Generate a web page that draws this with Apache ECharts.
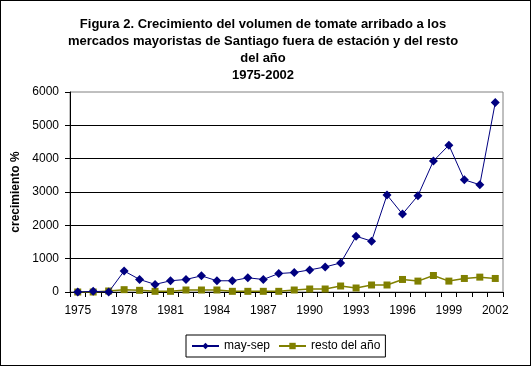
<!DOCTYPE html>
<html><head><meta charset="utf-8">
<script src="https://cdn.jsdelivr.net/npm/echarts@6/dist/echarts.min.js"></script>
<style>html,body{margin:0;padding:0;background:#fff}#c{width:531px;height:366px;box-sizing:border-box;border:1px solid #000}</style>
</head><body><div id="c"></div>
<script>
const years = ['1975','1976','1977','1978','1979','1980','1981','1982','1983','1984','1985','1986','1987','1988','1989','1990','1991','1992','1993','1994','1995','1996','1997','1998','1999','2000','2001','2002'];
const maySep = [0,20,0,630,376,228,337,376,485,337,337,426,376,554,584,663,752,871,1673,1525,2911,2337,2891,3931,4406,3366,3218,5683];
const restoDelAnio = [0,0,30,70,50,20,20,60,60,60,20,20,20,20,60,90,90,180,120,210,210,376,327,495,327,406,446,406];
const yTicks = [0,1000,2000,3000,4000,5000,6000];
const titleText = 'Figura 2. Crecimiento del volumen de tomate arribado a los\nmercados mayoristas de Santiago fuera de estación y del resto\ndel año\n1975-2002';

const chart = echarts.init(document.getElementById('c'), null, {renderer:'canvas'});
const font = 'Liberation Sans, Arial, sans-serif';
chart.setOption({
  animation:false,
  textStyle:{fontFamily:font},
  title:{text:titleText,left:262,textAlign:'center',top:15,padding:0,
    textStyle:{fontFamily:font,fontSize:13,fontWeight:'bold',color:'#000',lineHeight:17}},
  grid:{left:69,right:27,top:91,bottom:73,show:true,borderColor:'#808080',borderWidth:1,backgroundColor:'transparent'},
  legend:{left:185,top:334,itemGap:8,itemWidth:27,itemHeight:8,padding:[5,5],
    borderColor:'#000',borderWidth:1,
    textStyle:{fontFamily:font,fontSize:12,color:'#000'},
    data:['may-sep','resto del año']},
  xAxis:{type:'category',data:years,boundaryGap:true,
    axisLine:{lineStyle:{color:'#000'}},
    axisTick:{show:true,interval:0,length:5,lineStyle:{color:'#000'}},
    axisLabel:{interval:2,color:'#000',fontSize:12,margin:13,fontFamily:font},
    splitLine:{show:false}},
  yAxis:{type:'value',min:yTicks[0],max:yTicks[yTicks.length-1],interval:1000,
    name:'crecimiento %',nameLocation:'middle',nameGap:43,nameRotate:90,
    nameTextStyle:{fontFamily:font,fontSize:12,fontWeight:'bold',color:'#000'},
    axisLine:{show:true,lineStyle:{color:'#000'}},
    axisTick:{show:true,length:5,lineStyle:{color:'#000'}},
    axisLabel:{color:'#000',fontSize:12,margin:11,fontFamily:font,formatter:function(v){return String(v);}},
    splitLine:{show:true,showMaxLine:false,lineStyle:{color:'#000',width:1}}},
  series:[
    {name:'may-sep',type:'line',data:maySep,symbol:'diamond',symbolSize:9,
      lineStyle:{color:'#000080',width:1},itemStyle:{color:'#000080'},z:3},
    {name:'resto del año',type:'line',data:restoDelAnio,symbol:'rect',symbolSize:7,
      lineStyle:{color:'#808000',width:1.5},itemStyle:{color:'#808000'},z:2}
  ]
});
</script></body></html>
